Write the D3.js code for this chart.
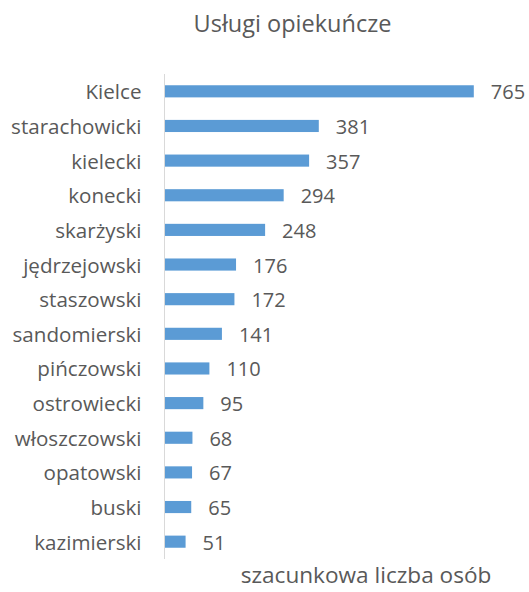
<!DOCTYPE html>
<html><head><meta charset="utf-8">
<script src="https://cdn.jsdelivr.net/npm/d3@7"></script>
<style>
html,body{margin:0;padding:0;background:#fff;}
text{font-family:"Open Sans",sans-serif;fill:#595959;}
</style></head>
<body>
<svg id="chart" width="529" height="592"></svg>
<script>
const categories = ["Kielce","starachowicki","kielecki","konecki","skarżyski","jędrzejowski","staszowski","sandomierski","pińczowski","ostrowiecki","włoszczowski","opatowski","buski","kazimierski"];
const values = [765,381,357,294,248,176,172,141,110,95,68,67,65,51];
const title = "Usługi opiekuńcze";
const xTitle = "szacunkowa liczba osób";

const svg = d3.select("#chart");
const x = d3.scaleLinear().domain([0, 765]).range([165, 473.8]);
const y = d3.scaleBand().domain(categories).range([74, 559]).paddingInner(0.65).paddingOuter(0.325);

svg.append("text").attr("x", 292.5).attr("y", 31.5).attr("text-anchor","middle")
  .style("font-size","23.5px").text(title);

svg.selectAll("rect.bar").data(values).join("rect").attr("class","bar")
  .attr("x", x(0)).attr("y",(d,i)=>y(categories[i]))
  .attr("width", d=>x(d)-x(0)).attr("height", y.bandwidth())
  .attr("fill","#5B9BD5");

svg.append("line").attr("x1",164.5).attr("x2",164.5).attr("y1",74).attr("y2",559)
  .attr("stroke","#D9D9D9").attr("stroke-width",1);

svg.selectAll("text.cat").data(categories).join("text").attr("class","cat")
  .attr("x",141.5).attr("y",d=>y(d)+y.bandwidth()/2+8)
  .attr("text-anchor","end").style("font-size","20.6px").text(d=>d);

svg.selectAll("text.val").data(values).join("text").attr("class","val")
  .attr("x",d=>x(d)+17).attr("y",(d,i)=>y(categories[i])+y.bandwidth()/2+8)
  .style("font-size","20px").text(d=>d);

svg.append("text").attr("x",366).attr("y",583).attr("text-anchor","middle")
  .style("font-size","22.6px").text(xTitle);
</script>
</body></html>
